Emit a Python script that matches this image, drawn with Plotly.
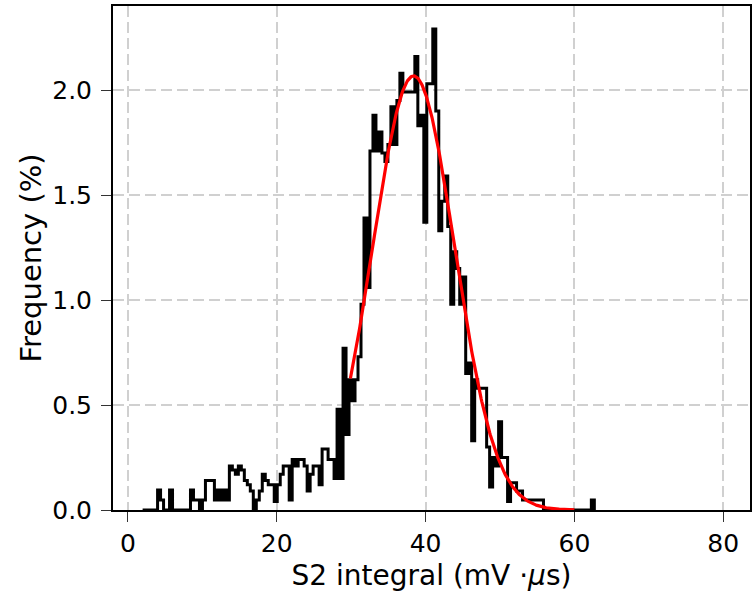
import numpy as np
import plotly.graph_objects as go

# ---- histogram data (Frequency in %) ----
BIN_START = 1.98          # left edge of first bin (mV·µs)
BIN_WIDTH = 0.402         # bin width (mV·µs)
freq_percent = [
    0, 0, 0, 0, 0, 0.095, 0.048, 0, 0, 0.095,            # 0-9
    0, 0, 0, 0, 0, 0, 0.095, 0.048, 0.048, 0,             # 10-19
    0.048, 0.14, 0.14, 0.14, 0.048, 0.095, 0.048, 0.095, 0.048, 0.21,  # 20-29
    0.19, 0.17, 0.21, 0.19, 0.14, 0.12, 0.09, 0, 0.048, 0.09,          # 30-39
    0.17, 0.14, 0.12, 0.12, 0.04, 0.12, 0.17, 0.21, 0.21, 0.048,       # 40-49
    0.24, 0.21, 0.24, 0.24, 0.21, 0.09, 0.17, 0.21, 0.21, 0.12,        # 50-59
    0.29, 0.29, 0.24, 0.24, 0.15, 0.48, 0.15, 0.77, 0.36, 0.62,        # 60-69
    0.52, 0.62, 0.73, 0.98, 1.39, 1.06, 1.71, 1.88, 1.71, 1.80,        # 70-79
    1.70, 1.66, 1.74, 1.92, 1.74, 1.95, 2.08, 1.99, 1.99, 1.99,        # 80-89
    1.99, 2.16, 1.83, 1.88, 1.37, 2.03, 2.03, 2.29, 1.90, 1.33,        # 90-99
    1.47, 1.59, 1.35, 0.98, 1.23, 1.15, 0.98, 1.11, 0.65, 0.70,        # 100-109
    0.33, 0.62, 0.58, 0.58, 0.58, 0.30, 0.11, 0.25, 0.21, 0.42,        # 110-119
    0.25, 0.25, 0.04, 0.13, 0.13, 0.09, 0.09, 0.048, 0.048, 0.048,     # 120-129
    0.048, 0.048, 0.048, 0.048, 0, 0, 0, 0, 0, 0,                      # 130-139
    0, 0, 0, 0, 0, 0, 0, 0, 0, 0,                                      # 140-149
    0.048,                                                             # 150
]

# ---- Gaussian fit parameters ----
FIT_AMPLITUDE = 2.067
FIT_MEAN = 38.4
FIT_SIGMA = 5.5
FIT_START = 29.9
FIT_END = 60.0

# ---- axis ticks ----
x_ticks = [0, 20, 40, 60, 80]
y_ticks = [0.0, 0.5, 1.0, 1.5, 2.0]
y_tick_labels = ["0.0", "0.5", "1.0", "1.5", "2.0"]
X_RANGE = [-2.0, 83.6]
Y_RANGE = [0.0, 2.40]

n = len(freq_percent)
edges = BIN_START + BIN_WIDTH * np.arange(n + 1)
step_x = [edges[0]] + list(edges[:-1]) + [edges[-1], edges[-1]]
step_y = [0] + list(freq_percent) + [freq_percent[-1], 0]

fit_x = np.linspace(FIT_START, FIT_END, 400)
fit_y = FIT_AMPLITUDE * np.exp(-((fit_x - FIT_MEAN) ** 2) / (2 * FIT_SIGMA ** 2))

fig = go.Figure()
fig.add_trace(go.Scatter(
    x=step_x, y=step_y, mode="lines",
    line=dict(color="black", width=3, shape="hv"),
    showlegend=False, hoverinfo="skip",
))
fig.add_trace(go.Scatter(
    x=fit_x, y=fit_y, mode="lines",
    line=dict(color="#ff0000", width=3.2),
    showlegend=False, hoverinfo="skip",
))

font_family = "DejaVu Sans, sans-serif"
TICK_FS = 25
axis_common = dict(
    showline=True, linecolor="black", linewidth=2, mirror=True,
    ticks="outside", ticklen=10, tickwidth=1.3, tickcolor="#333333",
    showgrid=True, gridcolor="#d0d0d0", gridwidth=2, griddash="11px,5px",
    zeroline=False,
    tickfont=dict(family=font_family, size=TICK_FS, color="black"),
)

fig.update_xaxes(
    range=X_RANGE, tickvals=x_ticks, ticktext=[str(v) for v in x_ticks],
    title=dict(text="S2 integral (mV ·<i>μ</i>s)",
               font=dict(family=font_family, size=28, color="black"), standoff=10),
    ticklabelstandoff=0,
    **axis_common,
)
fig.update_yaxes(
    range=Y_RANGE, tickvals=y_ticks, ticktext=y_tick_labels,
    title=dict(text="Frequency (%)",
               font=dict(family=font_family, size=29, color="black"), standoff=2),
    ticklabelstandoff=4,
    **axis_common,
)

fig.update_layout(
    width=756, height=592,
    margin=dict(l=113, r=4, t=4, b=79),
    plot_bgcolor="white", paper_bgcolor="white",
    font=dict(family=font_family, size=TICK_FS, color="black"),
)

fig.write_html("out.html")
